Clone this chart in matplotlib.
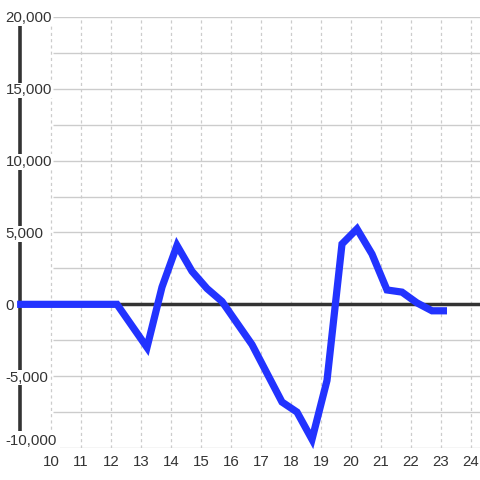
import numpy as np
import matplotlib.pyplot as plt

hours = [8.87, 9.2, 9.7, 10.2, 10.7, 11.2, 11.7, 12.2, 13.2, 13.7, 14.2, 14.7, 15.2, 15.7,
         16.2, 16.7, 17.2, 17.7, 18.2, 18.7, 19.2, 19.7, 20.2, 20.7, 21.2, 21.7,
         22.2, 22.7, 23.2]
values = [0, 0, 0, 0, 0, 0, 0, 0, -3000, 1200, 4100, 2300, 1100, 200,
          -1300, -2800, -4800, -6800, -7500, -9400, -5300, 4200, 5250, 3500, 1000, 850,
          100, -450, -450]

x_ticks = list(range(10, 25))
y_ticks = [-10000, -5000, 0, 5000, 10000, 15000, 20000]
y_grid = np.arange(-10000, 20001, 2500)

xmin, xmax = 8.967, 24.3

fig = plt.figure(figsize=(4.8, 4.8), dpi=100, facecolor="white")
ax = fig.add_axes([20 / 480, 32 / 480, 460 / 480, 431 / 480])
ax.set_xlim(xmin, xmax)
ax.set_ylim(-10000, 20000)

for s in ax.spines.values():
    s.set_visible(False)

# grid
ax.hlines(y_grid, 10.07, xmax, color="#cccccc", lw=1, zorder=0.5)
for x in x_ticks:
    ax.axvline(x, color="#cccccc", lw=0.9, ls=(0, (2.5, 2.5)), zorder=0.5)

# left bar and zero line
ax.axvline(xmin, color="#333333", lw=2.6, zorder=1, clip_on=False)
ax.axhline(0, color="#333333", lw=2.5, zorder=1)

ax.plot(hours, values, color="#2233ff", lw=5.2, solid_joinstyle="miter",
        solid_capstyle="butt", zorder=3, clip_on=False)
ax.set_xlim(xmin, xmax)

ax.set_xticks(x_ticks)
ax.set_xticklabels([str(x) for x in x_ticks])
ax.set_yticks(y_ticks)
ax.set_yticklabels(["{:,}".format(v) for v in y_ticks])
ax.tick_params(axis="x", length=0, pad=5, labelsize=10.8, labelcolor="#333333")
ax.tick_params(axis="y", length=0, pad=10.5, labelsize=10.8, labelcolor="#333333")
for lab in ax.get_xticklabels() + ax.get_yticklabels():
    lab.set_fontfamily("Liberation Sans")
for lab in ax.get_yticklabels():
    lab.set_ha("left")
    lab.set_bbox(dict(facecolor="white", edgecolor="none", pad=0.5))
bottom_lab = ax.get_yticklabels()[0]
bottom_lab.set_va("bottom")
bottom_lab.set_bbox(dict(facecolor="white", edgecolor="none", pad=2))

fig.savefig("out.png", dpi=100, facecolor="white")
